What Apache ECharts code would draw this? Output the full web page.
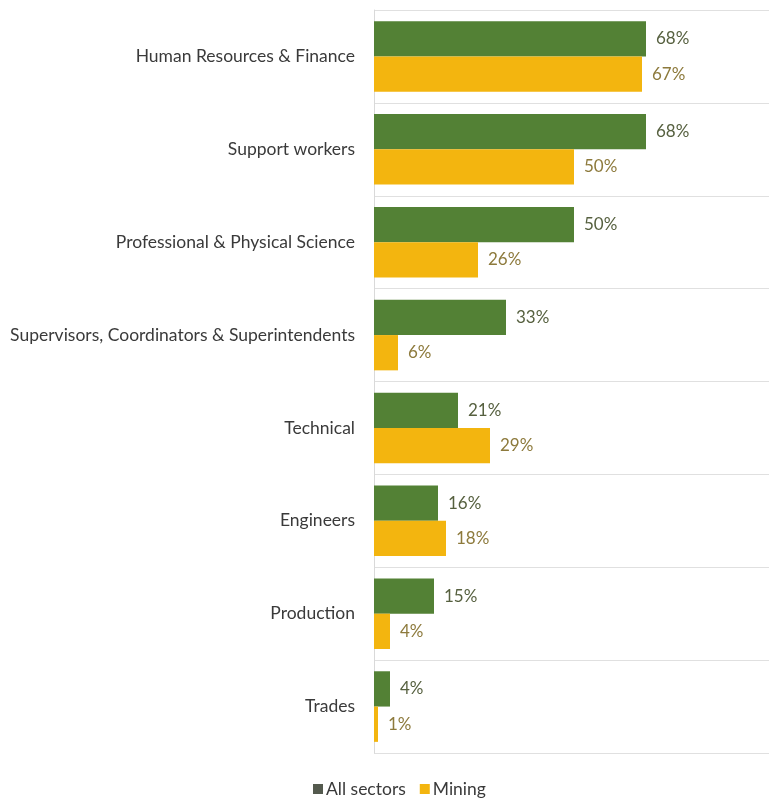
<!DOCTYPE html>
<html>
<head>
<meta charset="utf-8">
<script src="https://cdn.jsdelivr.net/npm/echarts@6/dist/echarts.min.js"></script>
<style>
  html, body { margin: 0; padding: 0; background: #ffffff; }
  #chart { width: 769px; height: 801px; }
</style>
</head>
<body>
<div id="chart"></div>
<script>
// Occupation groups, listed from top to bottom
var categories = [
  'Human Resources & Finance',
  'Support workers',
  'Professional & Physical Science',
  'Supervisors, Coordinators & Superintendents',
  'Technical',
  'Engineers',
  'Production',
  'Trades'
];
// Share (%) for each group
var allSectors = [68, 68, 50, 33, 21, 16, 15, 4];
var mining = [67, 50, 26, 6, 29, 18, 4, 1];
var seriesNames = ['All sectors', 'Mining'];

var FONT = 'Lato, "Open Sans", sans-serif';
var chart = echarts.init(document.getElementById('chart'));

chart.setOption({
  backgroundColor: '#ffffff',
  animation: false,
  grid: { left: 374, top: 10, right: 0, bottom: 48 },
  xAxis: {
    type: 'value',
    min: 0,
    max: 98.75,
    show: false
  },
  yAxis: {
    type: 'category',
    data: categories,
    inverse: true,
    axisLine: { show: true, lineStyle: { color: '#d9d9d9', width: 1 } },
    axisTick: { show: false },
    splitLine: { show: true, lineStyle: { color: '#e0e0e0', width: 1 } },
    axisLabel: {
      margin: 19,
      color: '#3a3a3a',
      fontFamily: FONT,
      fontSize: 17.5
    }
  },
  legend: {
    bottom: -2,
    left: 308,
    itemWidth: 10,
    itemHeight: 10,
    itemGap: 14,
    icon: 'rect',
    textStyle: { color: '#3a3a3a', fontFamily: FONT, fontSize: 17.5, padding: [0, 0, 0, -2] },
    data: [
      { name: seriesNames[0], itemStyle: { color: '#545a4e' } },
      { name: seriesNames[1] }
    ]
  },
  series: [
    {
      name: seriesNames[0],
      type: 'bar',
      data: allSectors,
      barGap: '0%',
      barCategoryGap: '24%',
      itemStyle: { color: '#538135' },
      label: {
        show: true,
        position: 'right',
        distance: 10,
        formatter: '{c}%',
        color: '#56603f',
        fontFamily: FONT,
        fontSize: 17
      }
    },
    {
      name: seriesNames[1],
      type: 'bar',
      data: mining,
      barGap: '0%',
      barCategoryGap: '24%',
      itemStyle: { color: '#f3b50f' },
      label: {
        show: true,
        position: 'right',
        distance: 10,
        formatter: '{c}%',
        color: '#8d7a3c',
        fontFamily: FONT,
        fontSize: 17
      }
    }
  ]
});
</script>
</body>
</html>
